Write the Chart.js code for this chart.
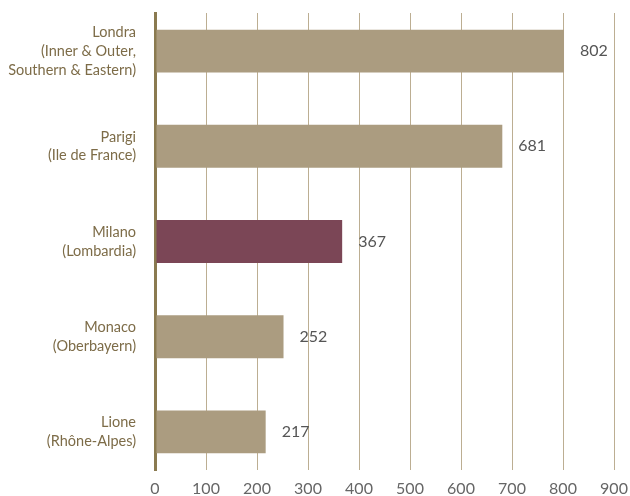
<!DOCTYPE html>
<html>
<head>
<meta charset="utf-8">
<script src="https://cdn.jsdelivr.net/npm/chart.js@4/dist/chart.umd.min.js"></script>
<style>
  html, body { margin: 0; padding: 0; background: #fff; }
  #wrap { width: 630px; height: 496px; }
</style>
</head>
<body>
<div id="wrap"><canvas id="chart" width="630" height="496"></canvas></div>
<script>
// data
var regions = [
    ['Londra', '(Inner & Outer,', 'Southern & Eastern)'],
    ['Parigi', '(Ile de France)'],
    ['Milano', '(Lombardia)'],
    ['Monaco', '(Oberbayern)'],
    ['Lione', '(Rhône-Alpes)']
];
var values = [802, 681, 367, 252, 217];
var highlight = [false, false, true, false, false];
var xTicks = [0, 100, 200, 300, 400, 500, 600, 700, 800, 900];

var TAN = '#ab9c80';
var WINE = '#7b4656';
var FONT = 'Lato, "DejaVu Sans", sans-serif';

// numbers printed right after each bar
var valueLabels = {
    id: 'valueLabels',
    afterDatasetsDraw: function (chart) {
        var ctx = chart.ctx;
        var meta = chart.getDatasetMeta(0);
        ctx.save();
        ctx.font = '16px ' + FONT;
        ctx.fillStyle = '#555555';
        ctx.textAlign = 'left';
        ctx.textBaseline = 'middle';
        meta.data.forEach(function (bar, i) {
            ctx.fillText(String(values[i]), bar.x + 16, bar.y);
        });
        ctx.restore();
    }
};

var ctx = document.getElementById('chart').getContext('2d');
var chart = new Chart(ctx, {
    type: 'bar',
    data: {
        datasets: [{
            data: values.map(function (v, i) { return { x: v, y: i }; }),
            backgroundColor: highlight.map(function (h) { return h ? WINE : TAN; }),
            borderWidth: 0,
            barPercentage: 0.45,
            categoryPercentage: 1
        }]
    },
    options: {
        indexAxis: 'y',
        responsive: false,
        animation: false,
        layout: { padding: { top: 13, right: 16, left: 0, bottom: 0 } },
        plugins: {
            legend: { display: false },
            tooltip: { enabled: false }
        },
        scales: {
            x: {
                type: 'linear',
                min: 0,
                max: 900,
                afterBuildTicks: function (s) {
                    s.ticks = xTicks.map(function (v) { return { value: v }; });
                },
                afterFit: function (s) {
                    s.height = 26;
                    s.paddingLeft = 0;
                    s.paddingRight = 0;
                },
                grid: {
                    drawTicks: false,
                    color: function (c) { return c.tick && c.tick.value === 0 ? '#8a7a50' : '#bcae92'; },
                    lineWidth: function (c) { return c.tick && c.tick.value === 0 ? 3 : 1; }
                },
                border: { display: false },
                ticks: {
                    padding: 9,
                    color: '#666666',
                    font: { family: FONT, size: 16 }
                }
            },
            y: {
                type: 'linear',
                reverse: true,
                offset: false,
                min: -0.4,
                max: 4.4,
                afterBuildTicks: function (s) {
                    s.ticks = regions.map(function (r, i) { return { value: i }; });
                },
                afterFit: function (s) {
                    s.width = 155;
                    s.paddingTop = 0;
                    s.paddingBottom = 0;
                },
                grid: { display: false, drawTicks: false, offset: false },
                border: { display: true, color: '#8a7a50', width: 3 },
                ticks: {
                    padding: 19,
                    color: '#7d6c48',
                    font: { family: FONT, size: 14.5, lineHeight: 1.3 },
                    callback: function (v) { return regions[v]; }
                }
            }
        }
    },
    plugins: [valueLabels]
});
</script>
</body>
</html>
